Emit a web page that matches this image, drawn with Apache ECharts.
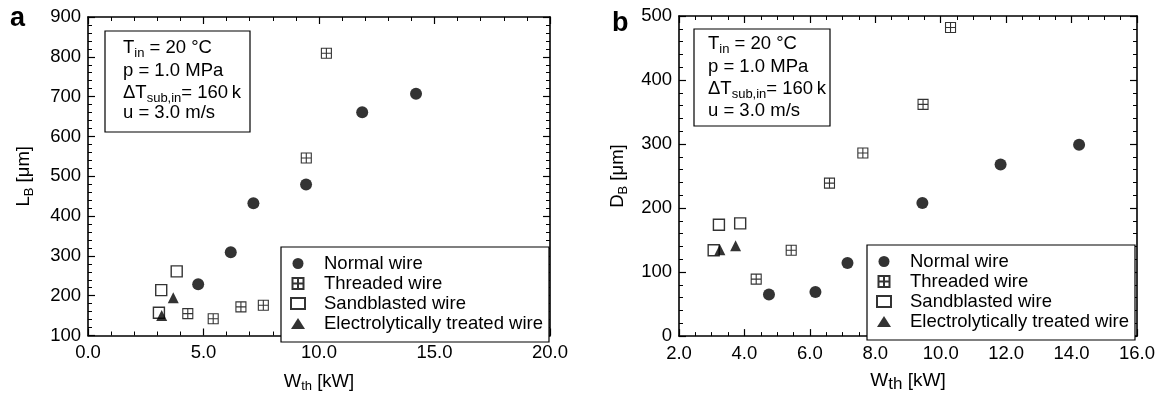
<!DOCTYPE html>
<html>
<head>
<meta charset="utf-8">
<script src="https://cdn.jsdelivr.net/npm/echarts@6/dist/echarts.min.js"></script>
<style>
html,body{margin:0;padding:0;background:#fff;}
#chart{width:1169px;height:398px;}
</style>
</head>
<body>
<div id="chart"></div>
<script>
// ---- Data ----
const seriesNames = ['Normal wire', 'Threaded wire', 'Sandblasted wire', 'Electrolytically treated wire'];

// Panel a: L_B [um] vs W_th [kW]
const normalA_x = [4.77, 6.18, 7.16, 9.44, 11.87, 14.2];
const normalA_y = [229, 309, 432, 479, 661, 707];
const threadA_x = [4.32, 5.42, 6.62, 7.59, 9.45, 10.32];
const threadA_y = [155, 142, 172, 176, 546, 809];
const sandA_x = [3.07, 3.17, 3.84];
const sandA_y = [157, 214, 261];
const electroA_x = [3.19, 3.69];
const electroA_y = [150, 195];

// Panel b: D_B [um] vs W_th [kW]
const normalB_x = [4.75, 6.17, 7.15, 9.44, 11.83, 14.23];
const normalB_y = [65, 69, 114, 208, 268, 299];
const threadB_x = [4.36, 5.43, 6.6, 7.62, 9.46, 10.3];
const threadB_y = [89, 134, 239, 286, 362, 482];
const sandB_x = [3.06, 3.22, 3.87];
const sandB_y = [134, 174, 176];
const electroB_x = [3.25, 3.73];
const electroB_y = [135, 141];

// Axis ranges / ticks
const axA_x = {min: 0, max: 20, interval: 5, minor: 5};
const axA_y = {min: 100, max: 900, interval: 100, minor: 5};
const axB_x = {min: 2, max: 16, interval: 2, minor: 4};
const axB_y = {min: 0, max: 500, interval: 100, minor: 5};

// Annotation lines
const annoLines = [
  '{n|T}{s|in}{n| = 20 °C}',
  '{n|p = 1.0 MPa}',
  '{n|ΔT}{s|sub,in}{n|= 160\u2009k}',
  '{n|u = 3.0 m/s}'
];

// ---- Rendering ----
const FONT = '"Liberation Sans", Arial, Helvetica, sans-serif';
const zip = (xs, ys) => xs.map((x, i) => [x, ys[i]]);
const THREAD = 'path://M0,0L10,0L10,10L0,10Z M5,0L5,10 M0,5L10,5';

const styles = [
  {symbol: 'circle', symbolSize: 12, itemStyle: {color: '#000'}},
  {symbol: THREAD, symbolSize: 10, itemStyle: {color: 'rgba(255,255,255,0)', borderColor: '#000', borderWidth: 1.1}},
  {symbol: 'rect', symbolSize: 11, itemStyle: {color: '#fff', borderColor: '#000', borderWidth: 1.4}},
  {symbol: 'triangle', symbolSize: 11, itemStyle: {color: '#000'}}
];

function mkSeries(idx, data, gi) {
  return Object.assign({
    type: 'scatter', name: seriesNames[idx], data: data,
    xAxisIndex: gi * 2, yAxisIndex: gi * 2, z: 3,
    emphasis: {disabled: true}
  }, JSON.parse(JSON.stringify(styles[idx])));
}

const tickLabel = {color: '#000', fontFamily: FONT, fontSize: 18.5};

function xAx(gi, ax, pos, labels) {
  return {
    type: 'value', gridIndex: gi, position: pos, min: ax.min, max: ax.max, interval: ax.interval,
    axisLine: {show: true, onZero: false, lineStyle: {color: '#000', width: 1.6}},
    axisTick: {show: true, inside: true, length: 7, lineStyle: {color: '#000', width: 1.2}},
    minorTick: {show: true, splitNumber: ax.minor, length: 4, lineStyle: {color: '#000', width: 1}},
    splitLine: {show: false},
    axisLabel: labels ? Object.assign({margin: 8, formatter: v => v.toFixed(1)}, tickLabel) : {show: false}
  };
}
function yAx(gi, ax, pos, labels) {
  return {
    type: 'value', gridIndex: gi, position: pos, min: ax.min, max: ax.max, interval: ax.interval,
    axisLine: {show: true, onZero: false, lineStyle: {color: '#000', width: 1.6}},
    axisTick: {show: true, inside: true, length: 7, lineStyle: {color: '#000', width: 1.2}},
    minorTick: {show: true, splitNumber: ax.minor, length: 4, lineStyle: {color: '#000', width: 1}},
    splitLine: {show: false},
    axisLabel: labels ? Object.assign({margin: 7}, tickLabel) : {show: false}
  };
}

const nameRich = {
  n: {fontFamily: FONT, fontSize: 18.5, color: '#000', lineHeight: 22},
  s: {fontFamily: FONT, fontSize: 13, color: '#000', lineHeight: 14, padding: [10, 0, 0, 0]}
};
const nameRichB = {
  n: {fontFamily: FONT, fontSize: 19, color: '#000', lineHeight: 22},
  s: {fontFamily: FONT, fontSize: 17, color: '#000', lineHeight: 18, padding: [8, 0, 0, 0]}
};

const xA = xAx(0, axA_x, 'bottom', true);
Object.assign(xA, {name: '{n|W}{s|th}{n| [kW]}', nameLocation: 'middle', nameGap: 35, nameTextStyle: {rich: nameRich}});
const xB = xAx(1, axB_x, 'bottom', true);
Object.assign(xB, {name: '{n|W}{s|th}{n| [kW]}', nameLocation: 'middle', nameGap: 31, nameTextStyle: {rich: nameRichB}});
const yA = yAx(0, axA_y, 'left', true);
Object.assign(yA, {name: '{n|L}{s|B}{n| [μm]}', nameLocation: 'middle', nameGap: 53, nameRotate: 90, nameTextStyle: {rich: nameRich}});
const yB = yAx(1, axB_y, 'left', true);
Object.assign(yB, {name: '{n|D}{s|B}{n| [μm]}', nameLocation: 'middle', nameGap: 50, nameRotate: 90, nameTextStyle: {rich: nameRich}});

function legend(left, top) {
  return {
    data: seriesNames, orient: 'vertical', left: left, top: top,
    itemWidth: 14, itemHeight: 11, itemGap: 1,
    padding: [7, 6, 9, 9],
    borderColor: '#000', borderWidth: 1.2, backgroundColor: '#fff',
    selectedMode: false,
    textStyle: {color: '#000', fontFamily: FONT, fontSize: 18.5, padding: [0, 0, 0, 14]}
  };
}

const annoRich = {
  n: {fontFamily: FONT, fontSize: 18.5, color: '#000', lineHeight: 22},
  s: {fontFamily: FONT, fontSize: 13, color: '#000', lineHeight: 14, padding: [10, 0, 0, 0]}
};
function annoGraphics(bx, by, bw, bh, tx, ys) {
  const out = [{type: 'rect', shape: {x: bx, y: by, width: bw, height: bh}, style: {fill: '#fff', stroke: '#000', lineWidth: 1.2}, z: 10}];
  annoLines.forEach((t, i) => {
    out.push({type: 'text', x: tx, y: ys[i], z: 11, style: {text: t, rich: annoRich, verticalAlign: 'middle', align: 'left'}});
  });
  return out;
}

const option = {
  animation: false,
  backgroundColor: '#fff',
  grid: [
    {left: 88, top: 17, width: 462, height: 320},
    {left: 679, top: 16, width: 458, height: 321}
  ],
  xAxis: [xA, xAx(0, axA_x, 'top', false), xB, xAx(1, axB_x, 'top', false)],
  yAxis: [yA, yAx(0, axA_y, 'right', false), yB, yAx(1, axB_y, 'right', false)],
  legend: [legend(281, 247), legend(867, 245)],
  series: [
    mkSeries(0, zip(normalA_x, normalA_y), 0),
    mkSeries(1, zip(threadA_x, threadA_y), 0),
    mkSeries(2, zip(sandA_x, sandA_y), 0),
    mkSeries(3, zip(electroA_x, electroA_y), 0),
    mkSeries(0, zip(normalB_x, normalB_y), 1),
    mkSeries(1, zip(threadB_x, threadB_y), 1),
    mkSeries(2, zip(sandB_x, sandB_y), 1),
    mkSeries(3, zip(electroB_x, electroB_y), 1)
  ],
  graphic: [].concat(
    annoGraphics(105, 31, 145, 101, 123, [48, 71, 93, 113]),
    annoGraphics(694, 29, 136, 97, 708, [44, 67, 89, 111]),
    [
      {type: 'text', x: 10, y: 19, style: {text: 'a', fontFamily: FONT, fontWeight: 'bold', fontSize: 27, fill: '#000', verticalAlign: 'middle'}},
      {type: 'text', x: 612, y: 24, style: {text: 'b', fontFamily: FONT, fontWeight: 'bold', fontSize: 27, fill: '#000', verticalAlign: 'middle'}}
    ]
  )
};

const chart = echarts.init(document.getElementById('chart'), null, {renderer: 'canvas'});
chart.setOption(option);
</script>
</body>
</html>
